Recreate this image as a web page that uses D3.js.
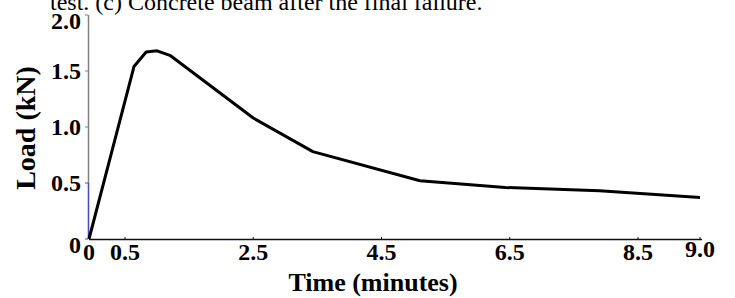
<!DOCTYPE html>
<html>
<head>
<meta charset="utf-8">
<script src="https://cdn.jsdelivr.net/npm/d3@7"></script>
<style>
  html, body { margin: 0; padding: 0; background: #fff; }
  svg { display: block; }
  text { font-family: "Liberation Serif", "Times New Roman", serif; fill: #000; }
</style>
</head>
<body>
<svg id="chart" width="735" height="298"></svg>
<script>
// ---- data ----
const timeMin = [0, 0.64, 0.83, 1.0, 1.2, 2.5, 3.43, 5.1, 6.43, 7.9, 9.0];
const loadKN  = [0, 1.54, 1.67, 1.68, 1.64, 1.08, 0.78, 0.52, 0.46, 0.43, 0.37];
const xTicks = [0, 0.5, 2.5, 4.5, 6.5, 8.5, 9.0];
const xTickLabels = ["0", "0.5", "2.5", "4.5", "6.5", "8.5", "9.0"];
const yTicks = [0, 0.5, 1.0, 1.5, 2.0];
const yTickLabels = ["0", "0.5", "1.0", "1.5", "2.0"];
const captionText = "test. (c) Concrete beam after the final failure.";
const xTitle = "Time (minutes)";
const yTitle = "Load (kN)";

const svg = d3.select("#chart");

// scales (the source figure's x axis is not uniform near the end)
const x = d3.scaleLinear().domain([0, 0.5, 8.5, 9.0]).range([89, 125, 638, 700]);
const y = d3.scaleLinear().domain([0, 2]).range([239, 15]);

// caption (cut at top)
svg.append("text")
  .attr("x", 50).attr("y", 10)
  .attr("font-size", 24)
  .text(captionText);

// y axis line
svg.append("line")
  .attr("x1", 88.5).attr("x2", 88.5)
  .attr("y1", y(2)).attr("y2", y(0))
  .attr("stroke", "#808080").attr("stroke-width", 1.5);
svg.append("line")
  .attr("x1", 88.5).attr("x2", 88.5)
  .attr("y1", y(0.5)).attr("y2", y(0))
  .attr("stroke", "#4a4ac0").attr("stroke-width", 1.2);

// y ticks
const yt = svg.append("g");
yt.selectAll("line").data(yTicks).join("line")
  .attr("x1", 85).attr("x2", 88)
  .attr("y1", d => y(d)).attr("y2", d => y(d))
  .attr("stroke", d => d <= 0.5 ? "#4a4ac0" : "#808080").attr("stroke-width", 1);
yt.selectAll("text").data(yTicks).join("text")
  .attr("x", 81)
  .attr("y", d => y(d))
  .attr("dy", (d, i) => (i === 0 || i === yTicks.length - 1) ? "0.6em" : "0.35em")
  .attr("text-anchor", "end")
  .attr("font-size", 24).attr("font-weight", "bold")
  .text((d, i) => yTickLabels[i]);

// x axis line
svg.append("line")
  .attr("x1", x(0)).attr("x2", x(9.0) + 2)
  .attr("y1", y(0) + 0.5).attr("y2", y(0) + 0.5)
  .attr("stroke", "#111").attr("stroke-width", 1.6);

// x ticks
const xt = svg.append("g");
xt.selectAll("line").data(xTicks.slice(1)).join("line")
  .attr("x1", d => x(d)).attr("x2", d => x(d))
  .attr("y1", y(0) - 2).attr("y2", y(0))
  .attr("stroke", "#111").attr("stroke-width", 1);
xt.selectAll("text").data(xTicks).join("text")
  .attr("x", d => x(d))
  .attr("y", (d, i) => i === xTicks.length - 1 ? 257 : 260)
  .attr("text-anchor", "middle")
  .attr("font-size", 24).attr("font-weight", "bold")
  .text((d, i) => xTickLabels[i]);

// curve
const line = d3.line().x(d => x(d[0])).y(d => y(d[1]));
svg.append("path")
  .datum(timeMin.map((t, i) => [t, loadKN[i]]))
  .attr("d", line)
  .attr("fill", "none")
  .attr("stroke", "#000")
  .attr("stroke-width", 3)
  .attr("stroke-linejoin", "round");

// axis titles
svg.append("text")
  .attr("x", 373).attr("y", 291)
  .attr("text-anchor", "middle")
  .attr("font-size", 26).attr("font-weight", "bold")
  .text(xTitle);

svg.append("text")
  .attr("transform", "translate(35,128) rotate(-90)")
  .attr("text-anchor", "middle")
  .attr("font-size", 28).attr("font-weight", "bold")
  .text(yTitle);
</script>
</body>
</html>
